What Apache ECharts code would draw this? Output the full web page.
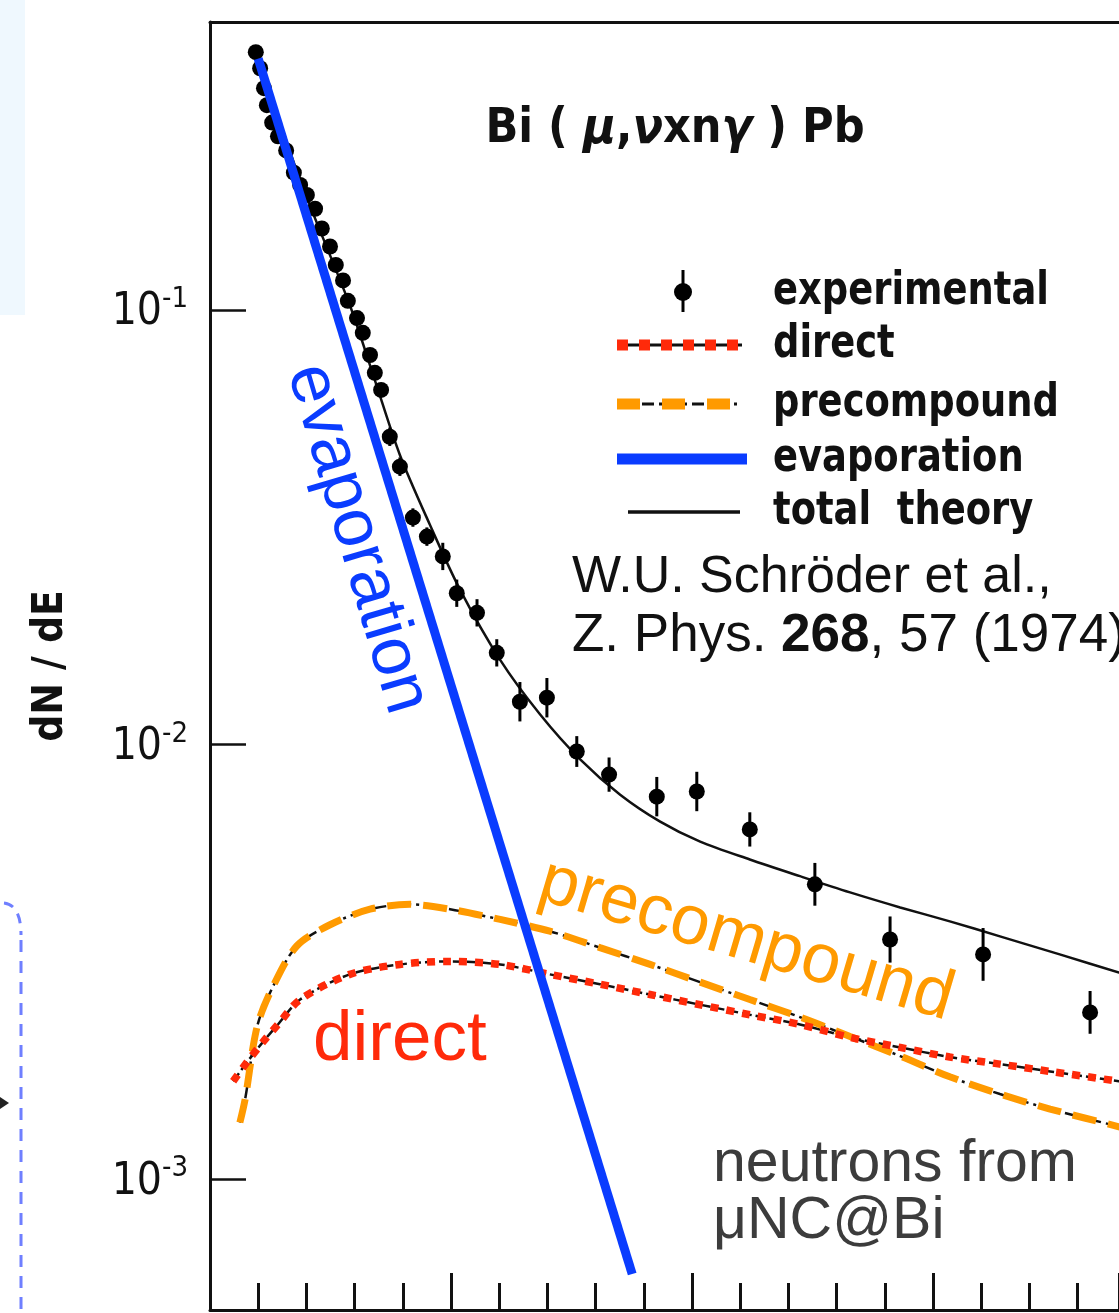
<!DOCTYPE html>
<html>
<head>
<meta charset="utf-8">
<title>Bi(μ,νxnγ)Pb neutron spectrum</title>
<script src="https://cdn.jsdelivr.net/npm/echarts@6.0.0/dist/echarts.min.js"></script>
<style>
  html, body { margin: 0; padding: 0; background: #fff; }
  #chart { width: 1119px; height: 1313px; }
</style>
</head>
<body>
<div id="chart"></div>
<script>
// neutron energy (MeV) vs dN/dE
const expE = [0.95, 1.04, 1.12, 1.18, 1.29, 1.41, 1.58, 1.74, 1.87, 2.01, 2.18, 2.32, 2.49, 2.61, 2.76, 2.86,
  3.05, 3.17, 3.32, 3.42, 3.55, 3.73, 3.94, 4.21, 4.50, 4.83, 5.12, 5.54, 5.95, 6.43, 6.99, 7.61, 8.28,
  9.27, 10.10, 11.20, 12.55, 14.11, 16.04, 18.26];
const expY = [0.392, 0.360, 0.324, 0.296, 0.270, 0.251, 0.233, 0.207, 0.194, 0.184, 0.171, 0.154, 0.140, 0.127,
  0.117, 0.105, 0.0958, 0.0886, 0.0788, 0.0717, 0.0655, 0.0511, 0.0436, 0.0333, 0.0301, 0.0271, 0.0223,
  0.0201, 0.01626, 0.01255, 0.01282, 0.00964, 0.00853, 0.00759, 0.00780, 0.00638, 0.00477, 0.00356,
  0.00329, 0.00242];
// error bar as a multiplicative factor (1 = hidden under the dot)
const expErr = [1, 1, 1, 1, 1, 1, 1, 1, 1, 1, 1, 1, 1, 1, 1, 1, 1, 1, 1, 1, 1, 1.05, 1.05, 1.05, 1.05,
  1.075, 1.075, 1.075, 1.075, 1.11, 1.11, 1.085, 1.095, 1.11, 1.11, 1.095, 1.12, 1.13, 1.15, 1.12];

const evapE = [1.0, 8.76];
const evapY = [0.379, 6.05e-4];

const totalE = [1.0, 1.87, 2.9, 3.42, 3.94, 4.56, 5.19, 6.02, 6.85, 7.68, 8.51, 9.34, 10.17, 11.2, 12.24,
  13.28, 14.32, 15.35, 16.39, 17.63, 18.86, 20];
const totalY = [0.385, 0.199, 0.1027, 0.069, 0.0464, 0.0321, 0.0227, 0.01567, 0.01173, 0.00925, 0.00767,
  0.00665, 0.00598, 0.00544, 0.00498, 0.00457, 0.00422, 0.00392, 0.00362, 0.00329, 0.00299, 0.00274];

const directE = [0.48, 0.77, 1.1, 1.41, 1.87, 2.9, 3.94, 4.98, 6.02, 7.05, 8.09, 9.13, 10.17, 11.2, 12.24,
  13.28, 14.32, 15.35, 16.39, 17.43, 18.86, 20];
const directY = [0.00168, 0.00186, 0.00207, 0.00227, 0.00259, 0.00296, 0.00312, 0.00317, 0.00312, 0.00296,
  0.00281, 0.00266, 0.00252, 0.00239, 0.00227, 0.00212, 0.00201, 0.00191, 0.00184, 0.00177, 0.00168, 0.00161];

const precompE = [0.62, 0.73, 0.98, 1.31, 1.8, 2.49, 3.32, 4.15, 4.98, 6.02, 7.05, 8.09, 9.13, 10.17, 11.2,
  12.24, 13.28, 14.32, 15.35, 16.39, 17.43, 18.86, 20];
const precompY = [0.00135, 0.00153, 0.00225, 0.00278, 0.00344, 0.00385, 0.00418, 0.00429, 0.00418, 0.00396,
  0.00372, 0.00341, 0.00312, 0.00284, 0.00259, 0.00236, 0.00213, 0.00192, 0.00172, 0.00157, 0.00145,
  0.00132, 0.00122];

const yLabelExps = [-1, -2, -3];

const BLUE = '#0a3cff';
const RED = '#ff2a0a';
const ORANGE = '#ff9a00';
const SCAN_FONT = '"DejaVu Sans Condensed", "DejaVu Sans", sans-serif';
const SANS = '"Liberation Sans", Arial, sans-serif';

const zip = (a, b) => a.map((v, i) => [v, b[i]]);

const chart = echarts.init(document.getElementById('chart'));

const legendRows = [292, 345, 404, 459, 512];
const X_MAX = 18.86; // the figure is cut at the right edge

chart.setOption({
  animation: false,
  backgroundColor: '#fff',
  grid: { left: 210, top: 22, right: 0, bottom: 3 },
  xAxis: [
    {
      type: 'value', min: 0, max: X_MAX, interval: 5,
      axisLine: { lineStyle: { color: '#111', width: 3 } },
      axisTick: { inside: true, length: 37, lineStyle: { color: '#111', width: 3 } },
      minorTick: { show: true, splitNumber: 5, length: 27, lineStyle: { color: '#111', width: 3 } },
      axisLabel: { show: false },
      splitLine: { show: false }
    },
    {
      type: 'value', position: 'top', min: 0, max: X_MAX,
      axisLine: { lineStyle: { color: '#111', width: 3 } },
      axisTick: { show: false }, axisLabel: { show: false }, splitLine: { show: false }
    }
  ],
  yAxis: {
    type: 'log', logBase: 10, min: 5e-4, max: 0.46,
    name: 'dN / dE', nameLocation: 'middle', nameRotate: 90, nameGap: 138,
    nameTextStyle: { fontFamily: SCAN_FONT, fontWeight: 'bold', fontSize: 42, color: '#111' },
    axisLine: { lineStyle: { color: '#111', width: 3 } },
    axisTick: { inside: true, length: 36, lineStyle: { color: '#111', width: 2.5 } },
    splitLine: { show: false },
    axisLabel: {
      margin: 22,
      formatter: function (v) {
        const e = Math.round(Math.log10(v));
        if (Math.abs(Math.log10(v) - e) > 1e-6 || yLabelExps.indexOf(e) < 0) return '';
        return '{b|10}{s|-' + Math.abs(e) + '}';
      },
      rich: {
        b: { fontFamily: SCAN_FONT, fontSize: 44, color: '#111', lineHeight: 50, verticalAlign: 'bottom' },
        s: { fontFamily: SCAN_FONT, fontSize: 29, color: '#111', lineHeight: 50, verticalAlign: 'top' }
      }
    }
  },
  series: [
    {
      name: 'precompound base', type: 'line', data: zip(precompE, precompY), symbol: 'none', smooth: 0.3,
      lineStyle: { color: '#111', width: 2.5, type: [12, 5, 3, 5] }, z: 2
    },
    {
      name: 'precompound', type: 'line', data: zip(precompE, precompY), symbol: 'none', smooth: 0.3,
      lineStyle: { color: ORANGE, width: 7, type: [24, 12] }, z: 3
    },
    {
      name: 'direct base', type: 'line', data: zip(directE, directY), symbol: 'none', smooth: 0.3,
      lineStyle: { color: '#111', width: 2.5, type: [10, 4] }, z: 2
    },
    {
      name: 'direct', type: 'line', data: zip(directE, directY), symbol: 'none', smooth: 0.3,
      lineStyle: { color: RED, width: 7.5, type: [8, 8] }, z: 3
    },
    {
      name: 'total theory', type: 'line', data: zip(totalE, totalY), symbol: 'none', smooth: 0.3,
      lineStyle: { color: '#111', width: 2.5 }, z: 4
    },
    {
      name: 'error bars', type: 'custom', z: 5,
      data: expE.map((e, i) => [e, expY[i] / expErr[i], expY[i] * expErr[i]]),
      encode: { x: 0, y: [1, 2] },
      renderItem: function (params, api) {
        const lo = api.coord([api.value(0), api.value(1)]);
        const hi = api.coord([api.value(0), api.value(2)]);
        return {
          type: 'line',
          shape: { x1: lo[0], y1: lo[1], x2: hi[0], y2: hi[1] },
          style: { stroke: '#000', lineWidth: 3 }
        };
      }
    },
    {
      name: 'experimental', type: 'scatter', data: zip(expE, expY), symbolSize: 16,
      itemStyle: { color: '#000', opacity: 1 }, z: 6
    },
    {
      name: 'evaporation', type: 'line', data: zip(evapE, evapY), symbol: 'none',
      lineStyle: { color: BLUE, width: 9 }, z: 7
    }
  ],
  graphic: [
    // bits of the surrounding slide
    { type: 'rect', shape: { x: 0, y: 0, width: 25, height: 315 }, style: { fill: '#eff8fe' }, z: -10 },
    {
      type: 'bezierCurve', shape: { x1: 4, y1: 903, cpx1: 21, cpy1: 905, x2: 21, y2: 935 },
      style: { stroke: '#6f7fff', lineWidth: 3, lineDash: [10, 8], fill: null }
    },
    {
      type: 'line', shape: { x1: 21, y1: 940, x2: 21, y2: 1313 },
      style: { stroke: '#6f7fff', lineWidth: 3, lineDash: [12, 9] }
    },
    { type: 'polygon', shape: { points: [[0, 1097], [9, 1103], [0, 1109]] }, style: { fill: '#222' } },

    // reaction label
    {
      type: 'text', x: 675, y: 130, z: 10,
      style: {
        text: '{r|Bi ( }{i|μ}{r|,}{i|ν}{r|xn}{i|γ}{r| ) Pb}', align: 'center', verticalAlign: 'middle',
        rich: {
          r: { fontFamily: SCAN_FONT, fontWeight: 'bold', fontSize: 48, fill: '#111' },
          i: { fontFamily: SCAN_FONT, fontWeight: 'bold', fontStyle: 'italic', fontSize: 50, fill: '#111' }
        }
      }
    },

    // legend
    {
      type: 'group', z: 10,
      children: [
        { type: 'line', shape: { x1: 683, y1: legendRows[0] - 22, x2: 683, y2: legendRows[0] + 20 }, style: { stroke: '#000', lineWidth: 3 } },
        { type: 'circle', shape: { cx: 683, cy: legendRows[0], r: 9 }, style: { fill: '#000' } },
        { type: 'line', shape: { x1: 617, y1: legendRows[1], x2: 742, y2: legendRows[1] }, style: { stroke: '#111', lineWidth: 3 } },
        { type: 'line', shape: { x1: 617, y1: legendRows[1], x2: 742, y2: legendRows[1] }, style: { stroke: RED, lineWidth: 11, lineDash: [11, 11] } },
        { type: 'line', shape: { x1: 617, y1: legendRows[2], x2: 740, y2: legendRows[2] }, style: { stroke: '#111', lineWidth: 3, lineDash: [12, 5, 3, 5] } },
        { type: 'line', shape: { x1: 617, y1: legendRows[2], x2: 740, y2: legendRows[2] }, style: { stroke: ORANGE, lineWidth: 11, lineDash: [23, 22] } },
        { type: 'line', shape: { x1: 617, y1: legendRows[3], x2: 747, y2: legendRows[3] }, style: { stroke: BLUE, lineWidth: 11 } },
        { type: 'line', shape: { x1: 628, y1: legendRows[4], x2: 740, y2: legendRows[4] }, style: { stroke: '#111', lineWidth: 3.5 } }
      ].concat(['experimental', 'direct', 'precompound', 'evaporation', 'total  theory'].map((t, i) => ({
        type: 'text', x: 773, y: legendRows[i], scaleY: 1.12,
        style: { text: t, fontFamily: SCAN_FONT, fontWeight: 'bold', fontSize: 41, fill: '#111', align: 'left', verticalAlign: 'middle' }
      })))
    },

    // reference
    {
      type: 'text', x: 572, y: 578, z: 10,
      style: { text: 'W.U. Schröder et al.,', fontFamily: SANS, fontSize: 52, fill: '#111', align: 'left', verticalAlign: 'middle' }
    },
    {
      type: 'text', x: 572, y: 636, z: 10,
      style: {
        text: '{n|Z. Phys. }{b|268}{n|, 57 (1974)}', align: 'left', verticalAlign: 'middle',
        rich: {
          n: { fontFamily: SANS, fontSize: 53, fill: '#111' },
          b: { fontFamily: SANS, fontSize: 53, fontWeight: 'bold', fill: '#111' }
        }
      }
    },

    // curve annotations
    {
      type: 'text', x: 306, y: 366, rotation: -73.5 * Math.PI / 180, z: 10,
      style: { text: 'evaporation', fontFamily: SANS, fontSize: 69, fill: BLUE, align: 'left', verticalAlign: 'middle' }
    },
    {
      type: 'text', x: 541, y: 880, rotation: -16.5 * Math.PI / 180, z: 10,
      style: { text: 'precompound', fontFamily: SANS, fontSize: 70, fill: ORANGE, align: 'left', verticalAlign: 'middle' }
    },
    {
      type: 'text', x: 313, y: 1040, z: 10,
      style: { text: 'direct', fontFamily: SANS, fontSize: 71, fill: RED, align: 'left', verticalAlign: 'middle' }
    },
    {
      type: 'text', x: 713, y: 1165, z: 10,
      style: { text: 'neutrons from', fontFamily: SANS, fontSize: 59, fill: '#3c3c3c', align: 'left', verticalAlign: 'middle' }
    },
    {
      type: 'text', x: 713, y: 1222, z: 10,
      style: { text: 'μNC@Bi', fontFamily: SANS, fontSize: 59, fill: '#3c3c3c', align: 'left', verticalAlign: 'middle' }
    }
  ]
});
</script>
</body>
</html>
